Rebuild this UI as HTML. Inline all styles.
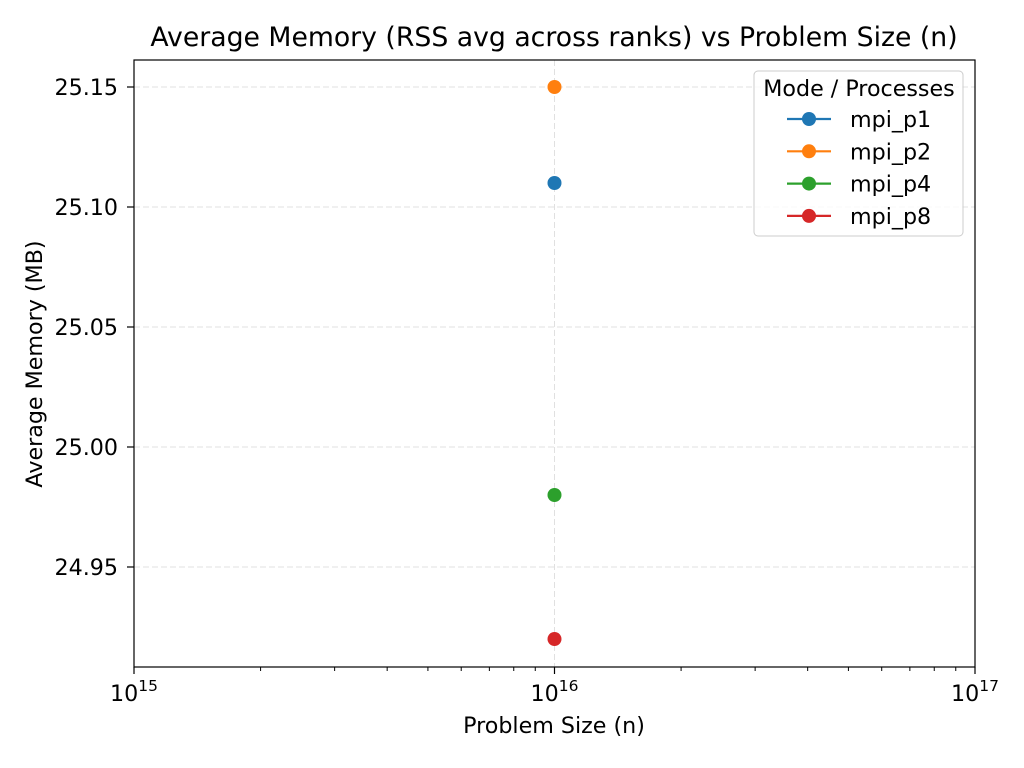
<!DOCTYPE html>
<html><head><meta charset="utf-8"><style>
body{margin:0;background:#fff;}
svg{display:block;font-family:"DejaVu Sans","Liberation Sans",sans-serif;}
</style></head><body>
<svg id="chart" width="1024" height="768">
<text x="554" y="46" font-size="26.7" text-anchor="middle">Average Memory (RSS avg across ranks) vs Problem Size (n)</text>
<g id="grid"></g>
<g id="axes"></g>
<g id="marks"></g>
<text x="554" y="733" font-size="22.2" text-anchor="middle">Problem Size (n)</text>
<text transform="translate(42,364) rotate(-90)" font-size="22.2" text-anchor="middle">Average Memory (MB)</text>
<g id="legend"></g>
</svg>
<script>
const series = ["mpi_p1","mpi_p2","mpi_p4","mpi_p8"];
const colors = ["#1f77b4","#ff7f0e","#2ca02c","#d62728"];
const xValues = [1e16,1e16,1e16,1e16];
const yValues = [25.11,25.15,24.98,24.92];
const yTicks = [24.95,25.00,25.05,25.10,25.15];
const xTickExps = [15,16,17];

const L=134,R=975,T=60,B=667;
const yMin=24.90833,yMax=25.16125,xMinE=15,xMaxE=17;
const ys=v=>B-(v-yMin)/(yMax-yMin)*(B-T);
const xs=v=>L+(Math.log10(v)-xMinE)/(xMaxE-xMinE)*(R-L);
const NS="http://www.w3.org/2000/svg";
function mk(parent,tag,attrs){const e=document.createElementNS(NS,tag);for(const k in attrs)e.setAttribute(k,attrs[k]);parent.appendChild(e);return e;}
const grid=document.getElementById('grid'),axes=document.getElementById('axes'),marks=document.getElementById('marks'),leg=document.getElementById('legend');

yTicks.forEach(v=>{
 const y=ys(v);
 const g=mk(grid,'line',{x1:L,x2:R,y1:y,y2:y,stroke:'#e0e0e0','stroke-dasharray':'6,3','stroke-width':1});
 
 
 mk(axes,'line',{x1:L-7,x2:L,y1:y,y2:y,stroke:'#000','stroke-width':1.2});
 const t=mk(axes,'text',{x:L-16,y:y+8,'font-size':22.2,'text-anchor':'end'});
 t.textContent=v.toFixed(2);
 
 
});
xTickExps.forEach(e=>{
 const x=xs(Math.pow(10,e));
 if(e>xMinE&&e<xMaxE){const g=mk(grid,'line',{x1:x,x2:x,y1:T,y2:B,stroke:'#e0e0e0','stroke-dasharray':'6,3','stroke-width':1});
 
 }
 mk(axes,'line',{x1:x,x2:x,y1:B,y2:B+7,stroke:'#000','stroke-width':1.2});
 const t=mk(axes,'text',{x:x,y:B+34,'font-size':22.2,'text-anchor':'middle'});
 t.innerHTML='10<tspan dy="-10" font-size="15.5">'+e+'</tspan>';
 
 
 if(e<xMaxE){for(let m=2;m<=9;m++){const xm=xs(m*Math.pow(10,e));mk(axes,'line',{x1:xm,x2:xm,y1:B,y2:B+4,stroke:'#000','stroke-width':1});}}
});
const frame=mk(axes,'rect',{x:L,y:T,width:R-L,height:B-T,fill:'none',stroke:'#000','stroke-width':1.2});



series.forEach((s,i)=>{
 const c=mk(marks,'circle',{cx:xs(xValues[i]),cy:ys(yValues[i]),r:7,fill:colors[i]});
 
 
});

const box=mk(leg,'rect',{x:754,y:71,width:209,height:165,rx:4,fill:'#fff','fill-opacity':0.8,stroke:'#ccc'});


const lt=mk(leg,'text',{x:859,y:96,'font-size':22.2,'text-anchor':'middle'});
lt.textContent='Mode / Processes';


series.forEach((s,i)=>{
 const y=119+i*32.3;
 const g=mk(leg,'g',{});
 
 
 mk(g,'line',{x1:787,x2:831,y1:y,y2:y,stroke:colors[i],'stroke-width':2.2});
 mk(g,'circle',{cx:809,cy:y,r:7,fill:colors[i]});
 const t=mk(g,'text',{x:850,y:y+8,'font-size':22.2});
 t.textContent=s;
});
</script>
</body></html>
